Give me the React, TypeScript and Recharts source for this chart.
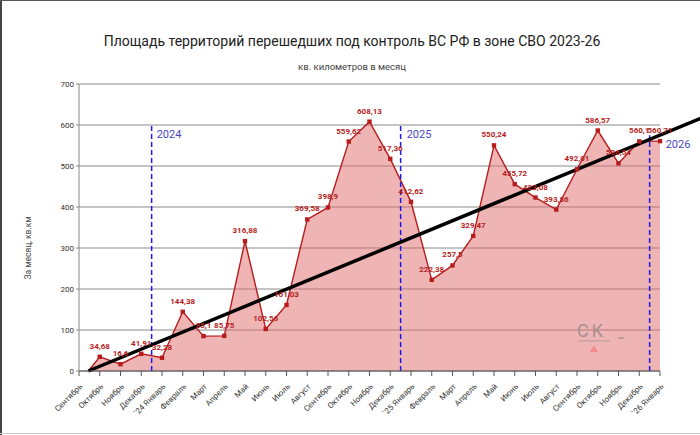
import React from 'react'
import { AreaChart, Area, XAxis, YAxis, CartesianGrid, ReferenceLine, LabelList } from 'recharts'

// months Sep 2023 .. Jan 2026
const MONTHS = [
  'Сентябрь', 'Октябрь', 'Ноябрь', 'Декабрь', '`24 Январь', 'Февраль', 'Март', 'Апрель', 'Май', 'Июнь',
  'Июль', 'Август', 'Сентябрь', 'Октябрь', 'Ноябрь', 'Декабрь', '`25 Январь', 'Февраль', 'Март', 'Апрель',
  'Май', 'Июнь', 'Июль', 'Август', 'Сентябрь', 'Октябрь', 'Ноябрь', 'Декабрь', '`26 Январь',
]

// km² per month, Oct 2023 .. Jan 2026
const AREA_VALUES = [
  34.68, 16.6, 41.91, 32.28, 144.38, 85.1, 85.75, 316.88, 102.56, 161.03,
  369.58, 398.9, 559.62, 608.13, 517.36, 412.62, 222.38, 257.5, 329.47, 550.24,
  455.72, 423.08, 393.86, 492.01, 586.57, 506.54, 560.1, 560.71,
]

// series starts from zero a bit after the first tick
const ORIGIN = { i: 0.45, v: 0 }

const TREND_FROM = { i: 0.45, v: 0 }
const TREND_TO = { i: 31, v: 638 }

const YEAR_MARKS = [
  { i: 3.5, top: 600, label: '2024', dx: 5 },
  { i: 15.5, top: 600, label: '2025', dx: 6 },
  { i: 27.5, top: 575, label: '2026', dx: 16 },
]

const Y_TICKS = [0, 100, 200, 300, 400, 500, 600, 700]

const RED = '#b71c1c'
const FONT = 'Roboto, "Liberation Sans", sans-serif'

const data = [ORIGIN, ...AREA_VALUES.map((v, k) => ({ i: k + 1, v }))]

const fmt = (v: number) => String(v).replace('.', ',')

function MonthTick({ x, y, payload }: any) {
  return (
    <text
      x={x + 4}
      y={y + 9}
      transform={`rotate(-45 ${x + 4} ${y + 9})`}
      textAnchor="end"
      fontSize={8}
      style={{ fill: '#333' }}
      fontFamily={FONT}
    >
      {MONTHS[payload.value]}
    </text>
  )
}

function SquareDot({ cx, cy, index }: any) {
  if (index === 0) return null
  return <rect x={cx - 2.2} y={cy - 2.2} width={4.4} height={4.4} fill={RED} />
}

function ValueLabel({ x, y, value, index }: any) {
  if (index === 0) return null
  return (
    <text x={x} y={y - 8} textAnchor="middle" fontSize={8} fontWeight="bold" fill={RED} fontFamily={FONT}>
      {fmt(value)}
    </text>
  )
}

function YearLabel(text: string, dx: number) {
  return ({ viewBox }: any) => (
    <text x={viewBox.x + dx} y={viewBox.y + 13} fontSize={11} fill="#4848c8" fontFamily={FONT}>
      {text}
    </text>
  )
}

export default function App() {
  return (
    <div
      style={{
        position: 'absolute',
        left: 0,
        top: 0,
        width: 700,
        height: 435,
        overflow: 'hidden',
        background: '#fff',
        fontFamily: FONT,
      }}
    >
      <AreaChart width={700} height={435} data={data} margin={{ top: 84, right: 40, bottom: 4, left: 0 }}>
        <CartesianGrid vertical={false} stroke="#8a8a8a" />
        <XAxis
          dataKey="i"
          type="number"
          domain={[0, 28]}
          ticks={MONTHS.map((_, k) => k)}
          interval={0}
          height={60}
          tick={<MonthTick />}
          tickSize={5}
          stroke="#555"
        />
        <YAxis
          width={79}
          domain={[0, 700]}
          ticks={Y_TICKS}
          tickSize={3}
          stroke="#888"
          tick={{ fontSize: 8, fill: '#333', fontFamily: FONT }}
        />
        <Area
          type="linear"
          dataKey="v"
          stroke={RED}
          strokeWidth={1.4}
          fill="#df6b6b"
          fillOpacity={0.5}
          dot={<SquareDot />}
          activeDot={false}
          isAnimationActive={false}
        >
          <LabelList dataKey="v" content={<ValueLabel />} />
        </Area>
        {YEAR_MARKS.map((m) => (
          <ReferenceLine
            key={m.label}
            segment={[{ x: m.i, y: 0 }, { x: m.i, y: m.top }]}
            stroke="#1a1aee"
            strokeWidth={1.5}
            strokeDasharray="5 3"
            label={YearLabel(m.label, m.dx)}
          />
        ))}
        <ReferenceLine
          segment={[{ x: TREND_FROM.i, y: TREND_FROM.v }, { x: TREND_TO.i, y: TREND_TO.v }]}
          stroke="#000"
          strokeWidth={3.5}
          ifOverflow="visible"
        />
      </AreaChart>

      <svg width={700} height={435} style={{ position: 'absolute', left: 0, top: 0, pointerEvents: 'none' }}>
        <text x={352} y={46} textAnchor="middle" fontSize={14} fill="#222" fontFamily={FONT}>
          Площадь территорий перешедших под контроль ВС РФ в зоне СВО 2023-26
        </text>
        <text x={352} y={70} textAnchor="middle" fontSize={9.5} fill="#444" fontFamily={FONT}>
          кв. километров в месяц
        </text>
        <text
          x={31}
          y={248}
          transform="rotate(-90 31 248)"
          textAnchor="middle"
          fontSize={8.5}
          fill="#444"
          fontFamily={FONT}
        >
          За месяц, кв.км
        </text>
        {/* watermark */}
        <text x={577} y={337} fontSize={18} fill="#a88e8e" letterSpacing={3} fontFamily={FONT}>
          CK
        </text>
        <line x1={578} y1={341} x2={610} y2={341} stroke="#b09a9a" strokeWidth={1} />
        <polygon points="590,352 598,352 594,345" fill="#f48a8a" />
        <line x1={618} y1={338} x2={624} y2={338} stroke="#a88e8e" strokeWidth={1.3} />
        {/* frame */}
        <line x1={1} y1={0} x2={1} y2={435} stroke="#444" strokeWidth={2} />
        <line x1={0} y1={0.5} x2={700} y2={0.5} stroke="#555" strokeWidth={1} />
        <line x1={0} y1={433.5} x2={700} y2={433.5} stroke="#c8c8c8" strokeWidth={1} />
      </svg>
    </div>
  )
}
